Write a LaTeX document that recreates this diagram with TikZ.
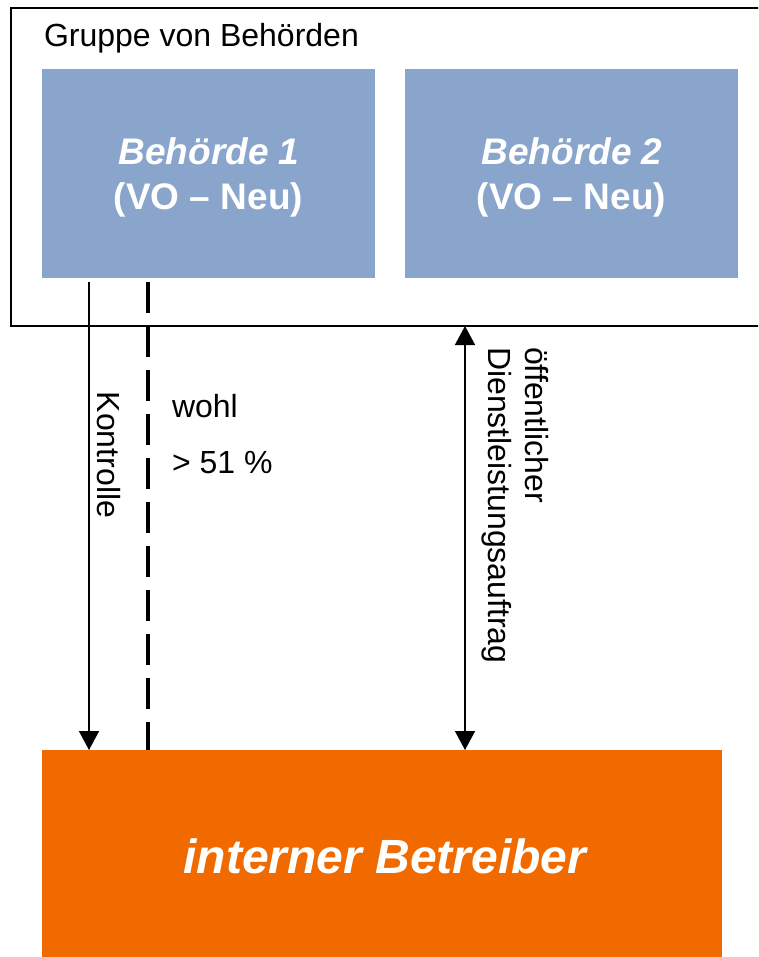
\documentclass[tikz,border=0pt]{standalone}
\usepackage{fontspec}
\setmainfont{Liberation Sans}
\usetikzlibrary{arrows.meta}
\definecolor{boxblue}{RGB}{138,165,204}
\definecolor{boxorange}{RGB}{241,106,0}
\begin{document}
\begin{tikzpicture}[x=1pt,y=-1pt,
  every node/.style={inner sep=0pt, outer sep=0pt},
  grp/.style={draw=black, line width=2pt, minimum width=769pt, minimum height=318pt},
  auth/.style={fill=boxblue, minimum width=333pt, minimum height=209pt},
  op/.style={fill=boxorange, minimum width=680pt, minimum height=207pt},
  lbl/.style={font=\fontsize{32}{37}\selectfont},
  authtxt/.style={text=white, font=\fontsize{37}{45}\selectfont\bfseries},
  optxt/.style={text=white, font=\fontsize{48}{56}\selectfont\bfseries\itshape},
  thin/.style={line width=1.5pt},
  arr/.style={-{Triangle[length=19pt,width=20pt]}},
  darr/.style={{Triangle[length=19pt,width=20pt]}-{Triangle[length=19pt,width=20pt]}},
  share/.style={line width=3.5pt, dash pattern=on 31pt off 13pt}]
\useasboundingbox (0,0) rectangle (758,957);
\clip (0,0) rectangle (758,957);
% group frame
\node[grp] (grp) at (395.5,167) {};
\node[lbl, anchor=base west] (grpt) at (44,47) {Gruppe von Behörden};
% authorities
\node[auth] (b1) at (208.5,173.5) {};
\node[auth] (b2) at (571.5,173.5) {};
\node[authtxt, anchor=base] (b1a) at (209,165) {\itshape Behörde 1};
\node[authtxt, anchor=base] (b1b) at (208.5,210) {(VO – Neu)};
\node[authtxt, anchor=base] (b2a) at (572,165) {\itshape Behörde 2};
\node[authtxt, anchor=base] (b2b) at (571.5,210) {(VO – Neu)};
% operator
\node[op] (op) at (382,853.5) {};
\node[optxt, anchor=base] (opt) at (385,873) {interner Betreiber};
% connectors
\coordinate (kt) at (89,282);
\coordinate (st) at (148,282);
\coordinate (dl) at (465,0);
\draw[thin,arr] (kt) -- (kt |- op.north);
\draw[share] (st) -- (st |- op.north);
\draw[thin,darr] (dl |- grp.south) -- (dl |- op.north);
% labels
\node[lbl, rotate=-90, anchor=base] (kon) at (97,455) {Kontrolle};
\node[lbl, anchor=base west] (wohl) at (172,417) {wohl};
\node[lbl, anchor=base west] (pct) at (172,473) {> 51 \%};
\node[lbl, rotate=-90, anchor=base west] (oef) at (525,347) {öffentlicher};
\node[lbl, rotate=-90, anchor=base west] (dla) at (488,347) {Dienstleistungsauftrag};
\end{tikzpicture}
\end{document}
